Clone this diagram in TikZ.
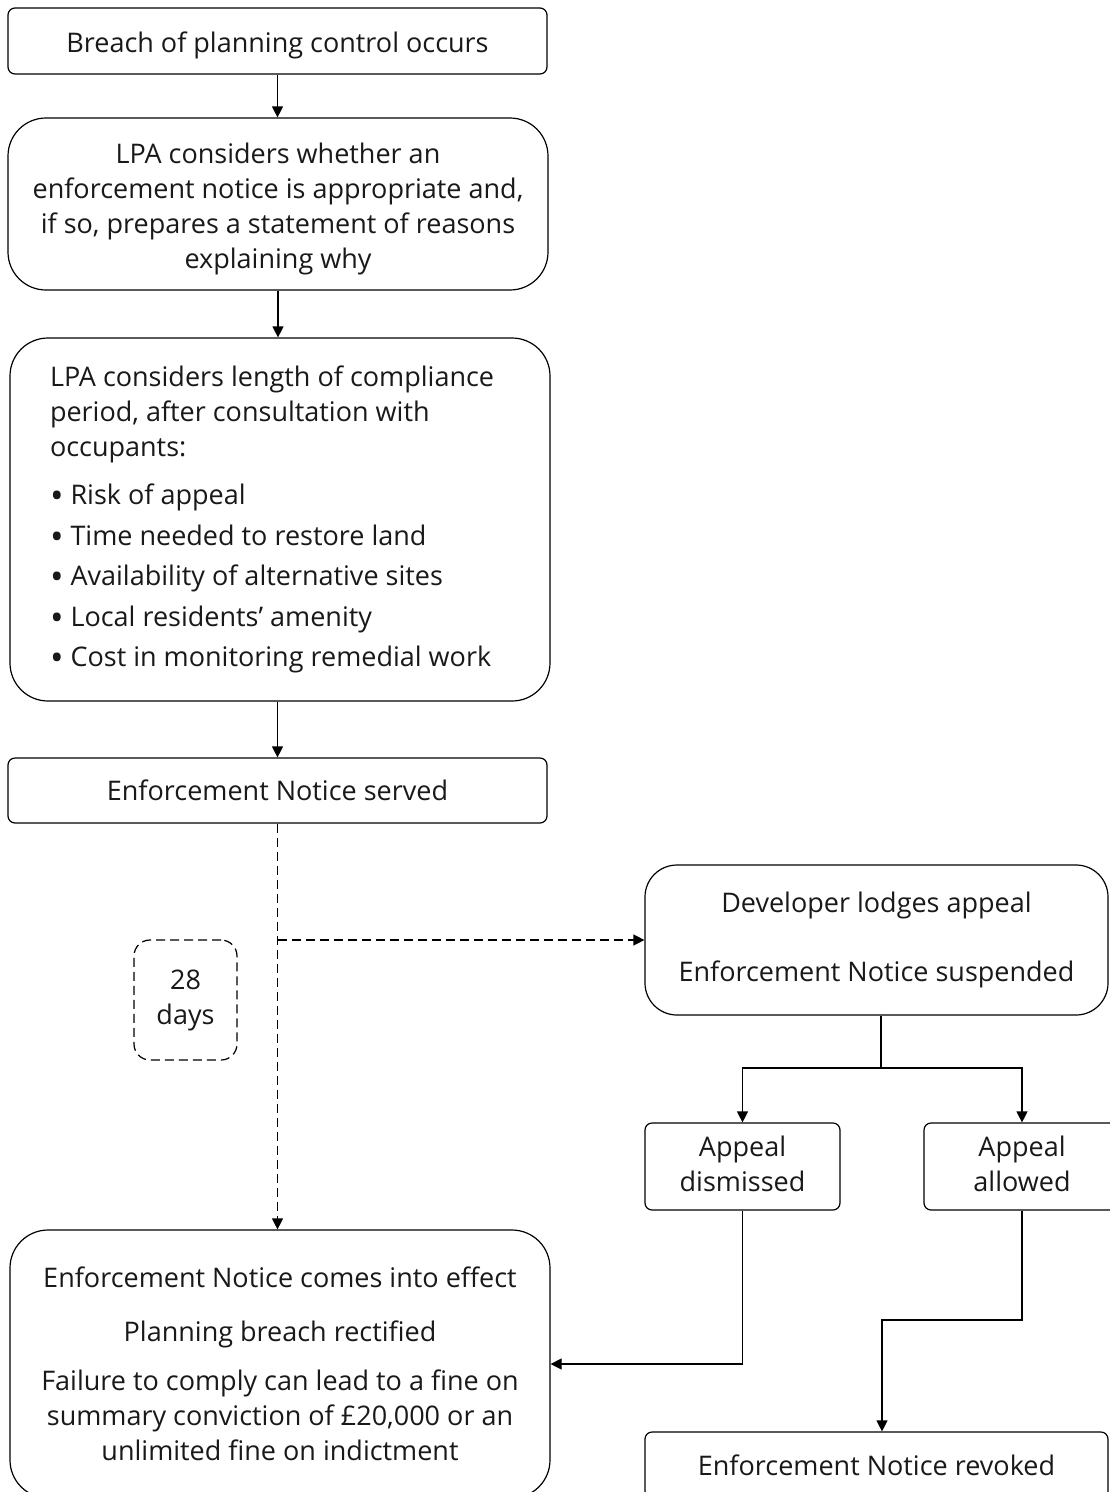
\documentclass[tikz,border=0pt]{standalone}
\usepackage{fontspec}
\setmainfont{Open Sans}
\usetikzlibrary{arrows.meta}
\newcommand{\bul}{{\fontsize{36}{35}\selectfont\raisebox{-4pt}{\textbullet}}\hspace{7pt}}
\newcommand{\shifttext}[2]{\raisebox{#1}[\height][\depth]{\begin{tabular}{@{}c@{}}#2\end{tabular}}}
\begin{document}
\begin{tikzpicture}[x=1pt,y=-1pt,
  every node/.style={font=\fontsize{27}{35}\selectfont, text=black!90},
  box/.style={draw, line width=1.2pt, rectangle, inner sep=0pt, align=center},
  sbox/.style={box, rounded corners=7pt},
  lbox/.style={box, rounded corners=38pt},
  conn/.style={line width=1.2pt},
  arr/.style={conn, -{Triangle[length=11pt,width=11pt]}},
  dsh/.style={dash pattern=on 9pt off 5pt}
]
\useasboundingbox (0,0) rectangle (1110,1492);
\clip (0,0) rectangle (1110,1492);
\fill[white] (0,0) rectangle (1110,1492);

\node[sbox, minimum width=539pt, minimum height=66pt] (b1) at (277.5,41)
  {\shifttext{-4pt}{Breach of planning control occurs}};
\node[lbox, minimum width=540pt, minimum height=172pt] (b2) at (278,204)
  {\shifttext{-5pt}{LPA considers whether an\\enforcement notice is appropriate and,\\if so, prepares a statement of reasons\\explaining why}};
\node[lbox, minimum width=540pt, minimum height=363pt] (b3) at (280,519.5)
  {\parbox{460pt}{\raggedright\fontsize{27}{35}\selectfont
   LPA considers length of compliance\\period, after consultation with\\occupants:\\[13pt]
   \bul Risk of appeal\\[5.5pt]
   \bul Time needed to restore land\\[5.5pt]
   \bul Availability of alternative sites\\[5.5pt]
   \bul Local residents’ amenity\\[5.5pt]
   \bul Cost in monitoring remedial work}};
\node[sbox, minimum width=539pt, minimum height=65pt] (b4) at (277.5,790.5) {Enforcement Notice served};
\node[box, dsh, rounded corners=16pt, minimum width=103pt, minimum height=120pt] (d28) at (185.5,1000) {28\\days};
\node[box, rounded corners=32pt, minimum width=463pt, minimum height=150pt] (b6) at (876.5,940)
  {Developer lodges appeal\\[34pt]Enforcement Notice suspended};
\node[sbox, minimum width=195pt, minimum height=87pt] (b7) at (742.5,1166.5)
  {\shifttext{0pt}{Appeal\\dismissed}};
\node[sbox, minimum width=196pt, minimum height=87pt] (b8) at (1022,1166.5)
  {\shifttext{0pt}{Appeal\\allowed}};
\node[lbox, minimum width=540pt, minimum height=268pt] (b5) at (280,1364)
  {Enforcement Notice comes into effect\\[19pt]Planning breach rectified\\[14pt]Failure to comply can lead to a fine on\\summary conviction of £20,000 or an\\unlimited fine on indictment};
\node[sbox, minimum width=463pt, minimum height=66pt] (b9) at (876.5,1465) {Enforcement Notice revoked};

\coordinate (split) at (881,1068);
\coordinate (turn) at (882,1320);

\draw[arr] (b1.south) -- (b1.south |- b2.north);
\draw[arr] (b2.south) -- (b2.south |- b3.north);
\draw[arr] (b4.north |- b3.south) -- (b4.north);
\draw[arr, dsh] (b4.south) -- (b4.south |- b5.north);
\draw[arr, dsh] (b4.south |- b6.west) -- (b6.west);
\draw[conn] (split |- b6.south) -- (split);
\draw[arr] (split) -| (b7.north);
\draw[arr] (split) -| (b8.north);
\draw[arr] (b7.south) |- (b5.east);
\draw[arr] (b8.south) |- (turn) -- (turn |- b9.north);
\end{tikzpicture}
\end{document}
